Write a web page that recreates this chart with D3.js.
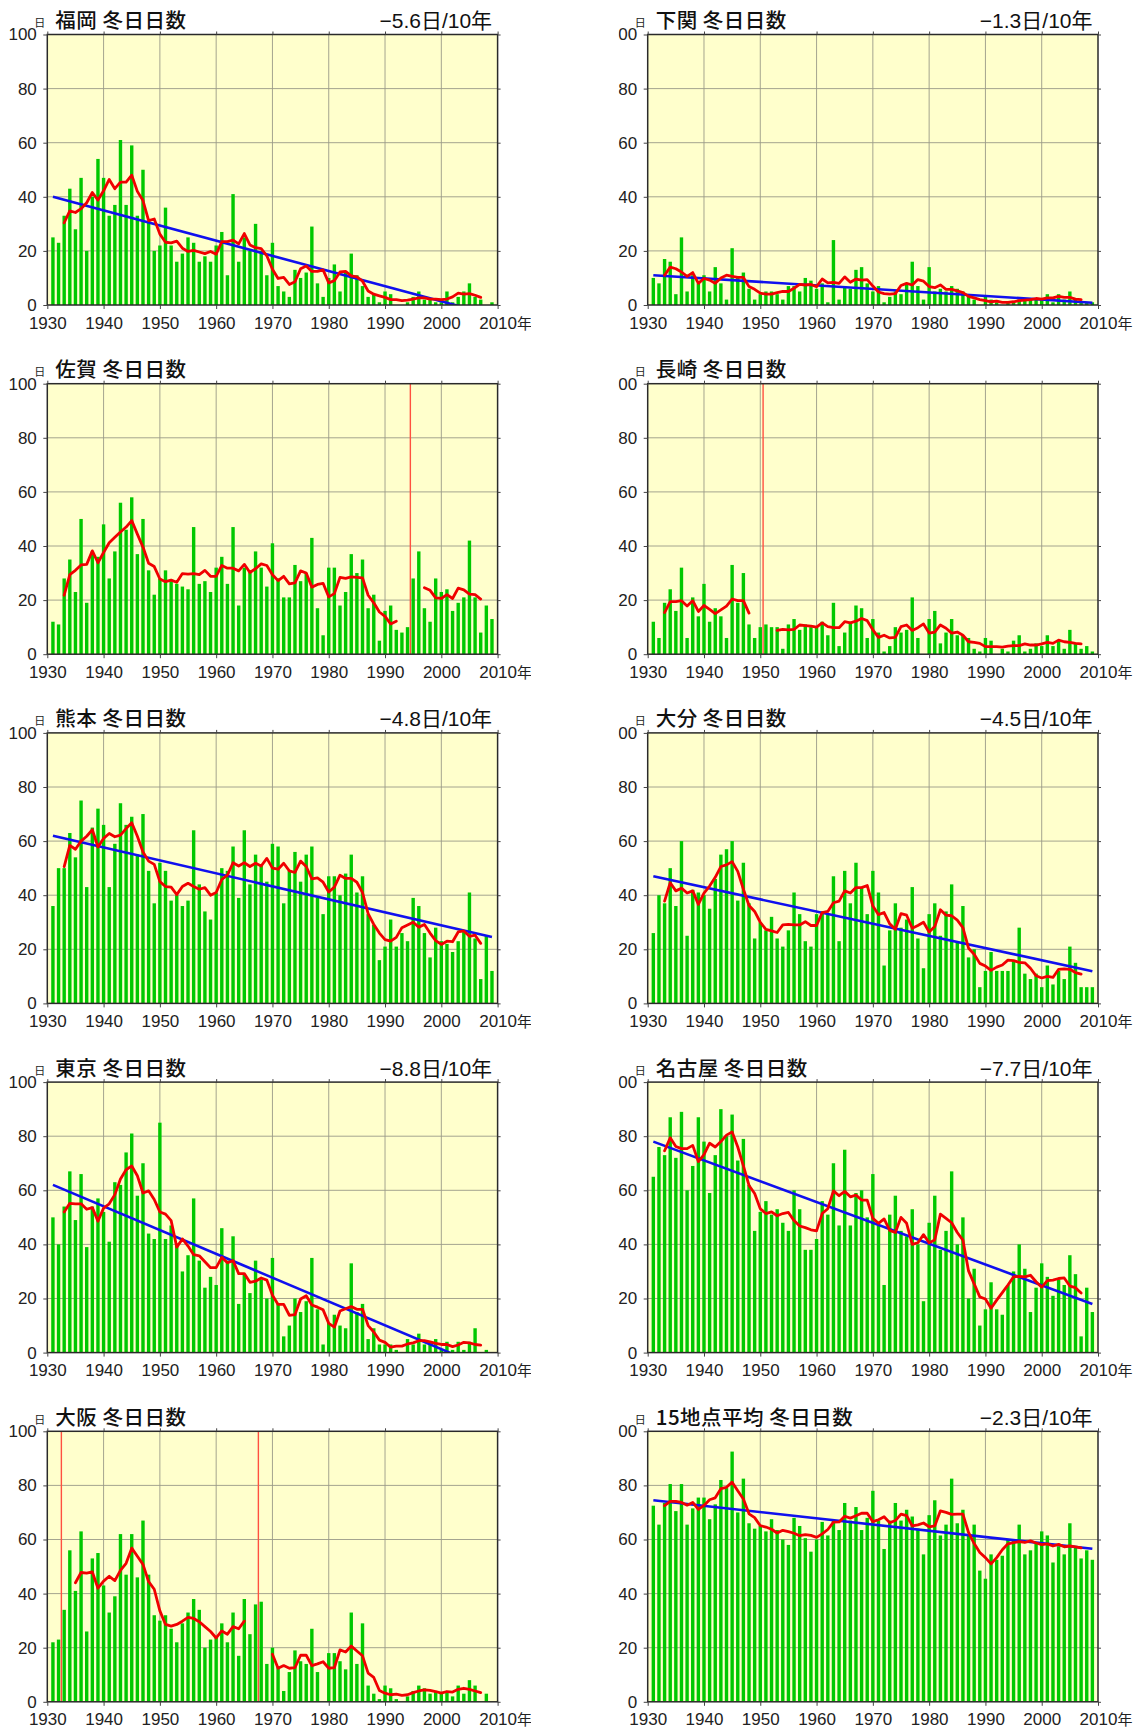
<!DOCTYPE html>
<html>
<head>
<meta charset="utf-8">
<script src="https://cdn.jsdelivr.net/npm/d3@7"></script>
<style>
  body { margin: 0; background: #fff; }
  svg { display: block; }
</style>
</head>
<body>
<svg id="chart" width="1139" height="1728"></svg>
<script>
// Winter years shown on every panel
const years = d3.range(1931, 2010);

// Annual number of days with minimum temperature below 0 °C (冬日日数)
const fukuoka = [
  25,23,33,43,28,47,20,40,54,47,
  33,37,61,37,59,33,50,31,20,22,
  36,22,16,19,25,23,16,18,16,22,
  27,11,41,16,25,20,30,20,11,23,
  7,5,3,13,10,12,29,8,3,10,
  15,5,12,19,11,7,3,4,1,5,
  4,0,0,1,3,5,2,2,1,1,
  5,1,3,5,8,3,2,0,1
];
const shimonoseki = [
  10,8,17,16,4,25,5,11,8,11,
  5,14,8,2,21,10,12,6,2,4,
  5,5,4,2,7,7,5,10,9,6,
  8,1,24,2,7,6,13,14,8,5,
  7,1,3,5,4,8,16,7,2,14,
  5,6,5,7,6,5,3,2,0,3,
  2,1,0,1,1,2,2,2,2,2,
  4,1,4,2,5,2,1,1,1
];
const saga = [
  12,11,28,35,23,50,19,38,36,48,
  28,38,56,46,58,37,50,31,22,28,
  31,27,26,25,24,47,26,27,23,32,
  36,26,47,18,32,31,38,32,25,41,
  28,21,21,33,27,30,43,17,7,32,
  32,18,23,37,30,35,17,22,5,16,
  18,9,8,10,28,38,17,12,28,23,
  24,16,19,21,42,21,8,18,13
];
const nagasaki = [
  12,6,19,24,16,32,6,21,14,26,
  12,17,14,6,33,19,30,11,6,10,
  11,10,10,2,11,13,9,11,10,10,
  12,7,19,3,8,12,18,17,6,13,
  8,1,3,10,8,9,21,6,0,13,
  16,4,8,13,7,7,6,2,1,6,
  5,0,2,1,5,7,1,2,4,3,
  7,3,5,2,9,4,2,3,1
];
const kumamoto = [
  36,50,50,63,54,75,43,65,72,66,
  43,59,74,66,69,55,70,49,37,52,
  49,38,40,36,38,64,44,34,31,41,
  50,49,58,39,64,44,55,51,45,59,
  58,37,49,56,45,55,58,39,33,47,
  47,40,48,55,41,47,33,29,16,21,
  31,21,26,23,39,36,26,17,28,23,
  22,19,23,27,41,24,9,25,12
];
const oita = [
  26,40,37,50,36,60,25,42,41,40,
  35,46,55,57,60,38,52,37,24,30,
  27,32,24,21,27,41,33,23,21,33,
  34,33,47,23,49,37,52,43,33,49,
  41,14,27,37,28,31,43,24,13,33,
  37,25,34,44,23,36,17,20,6,12,
  19,12,12,12,16,28,11,9,11,6,
  14,7,12,9,21,15,6,6,6
];
const tokyo = [
  50,40,54,67,49,66,39,54,57,52,
  41,63,62,74,81,58,70,44,42,85,
  42,47,40,30,36,57,34,24,28,25,
  46,34,43,18,29,22,34,27,20,35,
  18,6,10,20,15,19,35,16,3,11,
  14,10,9,33,15,18,5,9,3,3,
  3,1,0,5,3,7,3,4,5,1,
  4,1,4,1,4,9,0,1,0
];
const nagoya = [
  65,76,73,87,72,89,60,69,87,78,
  59,73,90,80,88,71,79,62,45,52,
  56,51,53,48,45,60,53,38,38,42,
  56,51,70,47,75,47,59,60,50,66,
  47,25,51,58,45,43,53,40,19,48,
  58,38,45,67,40,50,20,31,10,16,
  26,16,14,25,30,40,31,15,24,33,
  28,21,27,25,36,29,6,24,15
];
const osaka = [
  22,23,34,56,41,63,26,53,55,43,
  33,39,62,47,62,46,67,47,32,30,
  32,27,22,29,33,38,34,20,23,24,
  29,22,33,17,38,25,36,37,14,20,
  13,4,11,19,15,14,27,11,0,18,
  18,15,12,33,14,29,6,3,1,6,
  5,1,0,2,4,6,5,3,4,3,
  4,2,6,3,8,6,0,3,0
];
const average15 = [
  72.5,65.5,73.5,80.5,70.5,80.5,65.5,71.5,75.5,75.5,
  67.5,73,82,79,92.5,70,82.5,66,64,65,
  63,67.5,63.5,60,58,68,65,60.5,55.5,60,
  66.5,61.5,67,63.5,73.5,67,72,63.5,68,78,
  67,56.5,67,73.5,67,71,68.5,64,54.5,69,
  74.5,61.5,65.5,82.5,66,71,62,65.5,48.5,45.5,
  54.5,52.5,54,60,60,65.5,54.5,56,58.5,63,
  61.5,51.5,57.5,54.5,66,57,53,56,52.5
];

// Panel titles, in reading order (left column, right column)
const stationNames = ["福岡","下関","佐賀","長崎","熊本","大分","東京","名古屋","大阪","15地点平均"];
const stationValues = [fukuoka, shimonoseki, saga, nagasaki, kumamoto, oita, tokyo, nagoya, osaka, average15];
// Linear trend in days per decade (null: no trend shown because of relocation)
const trendPerDecade = [-5.6, -1.3, null, null, -4.8, -4.5, -8.8, -7.7, null, -2.3];
// Trend-line value in the first year (1931)
const trendStart = [40, 11, null, null, 62, 47, 62, 78, null, 74.5];
// Station relocations (drawn as vertical red lines; running mean is split there)
const relocations = [[], [], [1994.5], [1950.5], [], [], [], [], [1932.5, 1967.5], []];

// Axis ticks
const xTickYears = d3.range(1930, 2011, 10);
const yTickValues = [0, 20, 40, 60, 80, 100];

// 5-year centred running mean that never spans a relocation
function runningMean(vals, breaks) {
  return vals.map((v, i) => {
    if (i < 2 || i > vals.length - 3) return null;
    const y0 = years[i - 2], y1 = years[i + 2];
    if (breaks.some(b => b > y0 && b < y1)) return null;
    return d3.mean(vals.slice(i - 2, i + 3));
  });
}

const svg = d3.select("#chart");
const defs = svg.append("defs");

const plotW = 450.3, plotH = 270.5;
const colLeft = [47.3, 647.7];
const colExtent = [[0, 531], [618.5, 1139]];
const rowTop0 = 34.5, rowStep = 349.2;

const numFont = "'Liberation Sans', Arial, Helvetica, sans-serif";
const cjkFont = "'Liberation Sans', 'Noto Sans CJK JP', sans-serif";
const textColor = "#222";

stationNames.forEach((name, i) => {
  const col = i % 2, row = Math.floor(i / 2);
  const left = colLeft[col];
  const top = rowTop0 + row * rowStep;
  const values = stationValues[i];

  // each panel is cut at its own image edges
  const panelClip = "panel-clip-" + i;
  defs.append("clipPath").attr("id", panelClip).append("rect")
    .attr("x", colExtent[col][0]).attr("y", top - rowTop0)
    .attr("width", colExtent[col][1] - colExtent[col][0]).attr("height", rowStep);

  const outer = svg.append("g").attr("clip-path", `url(#${panelClip})`);
  const g = outer.append("g").attr("transform", `translate(${left},${top})`);

  const x = d3.scaleLinear().domain([1930, 2010]).range([0, plotW]);
  const y = d3.scaleLinear().domain([0, 100]).range([plotH, 0]);

  const plotClip = "plot-clip-" + i;
  defs.append("clipPath").attr("id", plotClip).append("rect")
    .attr("x", 0).attr("y", 0).attr("width", plotW).attr("height", plotH);

  // background
  g.append("rect").attr("width", plotW).attr("height", plotH).attr("fill", "#ffffcc");

  // grid
  const grid = g.append("g").attr("stroke", "#9a9a88").attr("stroke-width", 0.9);
  grid.selectAll("line.v").data(xTickYears.slice(1, -1)).join("line")
    .attr("x1", d => x(d)).attr("x2", d => x(d)).attr("y1", 0).attr("y2", plotH);
  grid.selectAll("line.h").data(yTickValues.slice(1, -1)).join("line")
    .attr("x1", 0).attr("x2", plotW).attr("y1", d => y(d)).attr("y2", d => y(d));

  // bars
  const bw = 3.4;
  g.append("g").attr("fill", "#00c800")
    .selectAll("rect").data(years.map((yr, k) => ({ yr, v: values[k] }))).join("rect")
    .attr("x", d => x(d.yr) - bw / 2).attr("width", bw)
    .attr("y", d => y(d.v)).attr("height", d => plotH - y(d.v));

  const inner = g.append("g").attr("clip-path", `url(#${plotClip})`);

  // relocation markers
  inner.selectAll("line.reloc").data(relocations[i]).join("line")
    .attr("x1", d => x(d)).attr("x2", d => x(d)).attr("y1", 0).attr("y2", plotH)
    .attr("stroke", "#ff5040").attr("stroke-width", 1.4);

  // linear trend
  if (trendPerDecade[i] !== null) {
    const slope = trendPerDecade[i] / 10;
    const ends = [1931, 2009].map(yr => ({ yr, v: trendStart[i] + slope * (yr - 1931) }));
    inner.append("path").datum(ends)
      .attr("d", d3.line().x(d => x(d.yr)).y(d => y(d.v)))
      .attr("fill", "none").attr("stroke", "#1010ee").attr("stroke-width", 2.6);
  }

  // 5-year running mean
  const mean = runningMean(values, relocations[i]).map((v, k) => ({ yr: years[k], v }));
  inner.append("path").datum(mean)
    .attr("d", d3.line().defined(d => d.v !== null).x(d => x(d.yr)).y(d => y(d.v)))
    .attr("fill", "none").attr("stroke", "#f00000").attr("stroke-width", 2.8)
    .attr("stroke-linejoin", "round").attr("stroke-linecap", "round");

  // frame
  g.append("rect").attr("width", plotW).attr("height", plotH)
    .attr("fill", "none").attr("stroke", "#2a2a2a").attr("stroke-width", 1.5);

  // axes
  const xAxis = d3.axisBottom(x).tickValues(xTickYears).tickFormat(d3.format("d"))
    .tickSize(4).tickPadding(7.5);
  const yAxis = d3.axisLeft(y).tickValues(yTickValues).tickSize(4).tickPadding(6.5);
  const styleAxis = sel => {
    sel.select(".domain").remove();
    sel.selectAll(".tick line").attr("stroke", "#444");
    sel.selectAll(".tick text").attr("fill", textColor)
      .style("font-family", numFont).style("font-size", "17px");
  };
  g.append("g").attr("transform", `translate(0,${plotH})`).call(xAxis).call(styleAxis);
  g.append("g").call(yAxis).call(styleAxis);
  g.append("g").call(d3.axisTop(x).tickValues(xTickYears).tickSize(3).tickFormat(""))
    .call(styleAxis);
  g.append("g").attr("transform", `translate(${plotW},0)`)
    .call(d3.axisRight(y).tickValues(yTickValues).tickSize(3).tickFormat("")).call(styleAxis);

  // unit labels
  g.append("text").attr("x", x(2010) + 19.5).attr("y", plotH + 23.5)
    .attr("fill", textColor).style("font-family", "'Noto Sans CJK JP', sans-serif")
    .style("font-size", "15px").text("年");
  g.append("text").attr("x", -7.5).attr("y", -7.5).attr("text-anchor", "middle")
    .attr("fill", textColor).style("font-family", "'Noto Sans CJK JP', sans-serif")
    .style("font-size", "11px").text("日");

  // title
  g.append("text").attr("x", 8).attr("y", -6.5)
    .attr("fill", "#111").style("font-family", "'Noto Sans CJK JP', sans-serif")
    .style("font-size", "20.5px").style("font-weight", 500).style("letter-spacing", "0.5px")
    .text(name + " 冬日日数");

  // trend label
  if (trendPerDecade[i] !== null) {
    const t = trendPerDecade[i];
    g.append("text").attr("x", plotW - 5.5).attr("y", -6.5).attr("text-anchor", "end")
      .attr("fill", "#111").style("font-family", cjkFont)
      .style("font-size", "21px")
      .text((t < 0 ? "\u2212" : "+") + Math.abs(t).toFixed(1) + "日/10年");
  }
});
</script>
</body>
</html>
